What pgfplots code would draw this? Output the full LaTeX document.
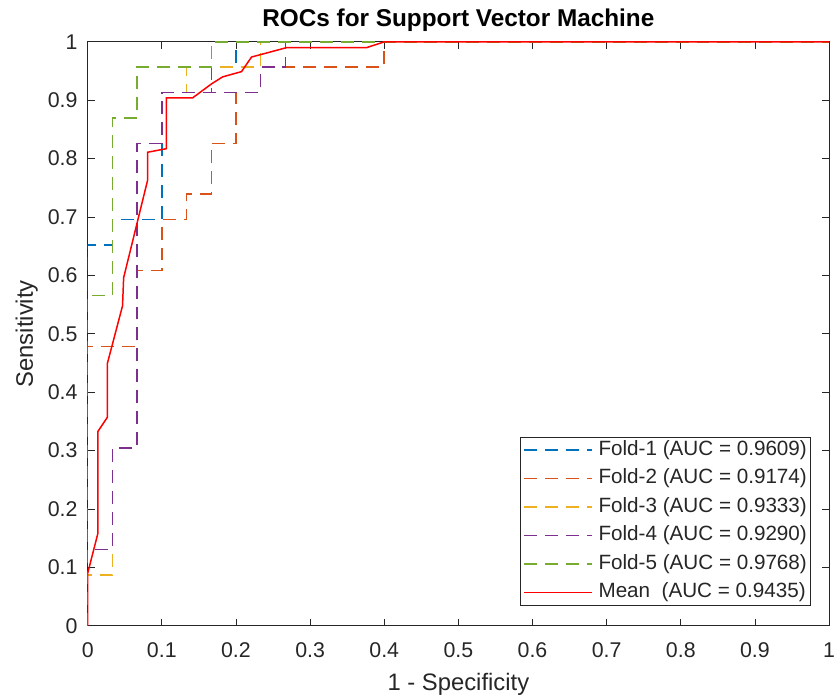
\documentclass[border=0pt]{standalone}
\usepackage{fontspec}
\setmainfont{Liberation Sans}
\usepackage{pgfplots}
\pgfplotsset{compat=1.18}
\definecolor{mlblue}{rgb}{0,0.447,0.741}
\definecolor{mlorange}{rgb}{0.850,0.325,0.098}
\definecolor{mlyellow}{rgb}{0.929,0.694,0.125}
\definecolor{mlpurple}{rgb}{0.494,0.184,0.556}
\definecolor{mlgreen}{rgb}{0.466,0.674,0.188}
\definecolor{axc}{rgb}{0.15,0.15,0.15}
\begin{document}
\begin{tikzpicture}
\begin{axis}[
  scale only axis, width=744bp, height=586bp,
  xmin=0, xmax=1, ymin=0, ymax=1,
  xtick={0,0.1,0.2,0.3,0.4,0.5,0.6,0.7,0.8,0.9,1},
  ytick={0,0.1,0.2,0.3,0.4,0.5,0.6,0.7,0.8,0.9,1},
  xticklabels={0,0.1,0.2,0.3,0.4,0.5,0.6,0.7,0.8,0.9,1},
  yticklabels={0,0.1,0.2,0.3,0.4,0.5,0.6,0.7,0.8,0.9,1},
  xtick pos=both, ytick pos=both, xticklabel pos=lower, yticklabel pos=left,
  tick align=inside, major tick length=7bp,
  every tick/.style={axc, line width=0.8bp},
  axis line style={axc, line width=0.9bp},
  /pgf/number format/assume math mode=true,
  ticklabel style={font=\fontsize{21.5}{25}\selectfont, text=axc},
  xticklabel style={anchor=base, yshift=-32bp, inner sep=0pt},
  yticklabel style={anchor=east, xshift=-10bp, inner sep=0pt},
  title={\textbf{ROCs for Support Vector Machine}},
  title style={at={(axis description cs:0.5,1.0154)}, anchor=base, font=\fontsize{24.5}{28}\selectfont, inner sep=0pt},
  xlabel={1 - Specificity},
  xlabel style={at={(axis description cs:0.5,-0.1109)}, anchor=base, font=\fontsize{24}{28}\selectfont, text=axc, inner sep=0pt},
  ylabel={Sensitivity},
  ylabel style={at={(axis description cs:-0.0739,0.5)}, anchor=base, font=\fontsize{24}{28}\selectfont, text=axc, inner sep=0pt},
  legend cell align=left,
  legend image code/.code={\draw[#1] (0bp,0bp) -- (68bp,0bp);},
  legend style={at={(axis description cs:0.9745,0.0341)}, anchor=south east,
    draw=axc, line width=0.6bp, fill=white, inner sep=3bp,
    font=\fontsize{20.8}{24}\selectfont, text=axc,
    nodes={inner sep=0pt, text height=15bp, text depth=5bp},
    row sep=8.6bp, column sep=6bp},
  every axis plot/.append style={line width=1.5bp},
]
\addplot[mlblue, dash pattern=on 13bp off 8bp] coordinates {
(0,0) (0,0.6522) (0.0333,0.6522) (0.0333,0.6957) (0.1,0.6957) (0.1,0.9130)
(0.1667,0.9130) (0.1667,0.9565) (0.2,0.9565) (0.2,1) (1,1)};
\addlegendentry{Fold-1 (AUC = 0.9609)}
\addplot[mlorange, dash pattern=on 13bp off 8bp] coordinates {
(0,0) (0,0.4783) (0.0667,0.4783) (0.0667,0.6087) (0.1,0.6087) (0.1,0.6957)
(0.1333,0.6957) (0.1333,0.7391) (0.1667,0.7391) (0.1667,0.8261) (0.2,0.8261)
(0.2,0.9130) (0.2333,0.9130) (0.2333,0.9565) (0.4,0.9565) (0.4,1) (1,1)};
\addlegendentry{Fold-2 (AUC = 0.9174)}
\addplot[mlyellow, dash pattern=on 13bp off 8bp] coordinates {
(0,0) (0,0.0870) (0.0333,0.0870) (0.0333,0.3043) (0.0667,0.3043) (0.0667,0.8261)
(0.1,0.8261) (0.1,0.9130) (0.1333,0.9130) (0.1333,0.9565) (0.2333,0.9565) (0.2333,1) (1,1)};
\addlegendentry{Fold-3 (AUC = 0.9333)}
\addplot[mlpurple, dash pattern=on 13bp off 8bp] coordinates {
(0,0) (0,0.1304) (0.0333,0.1304) (0.0333,0.3043) (0.0667,0.3043) (0.0667,0.8261)
(0.1,0.8261) (0.1,0.9130) (0.2333,0.9130) (0.2333,0.9565) (0.2667,0.9565) (0.2667,1) (1,1)};
\addlegendentry{Fold-4 (AUC = 0.9290)}
\addplot[mlgreen, dash pattern=on 13bp off 8bp] coordinates {
(0,0) (0,0.5652) (0.0333,0.5652) (0.0333,0.8696) (0.0667,0.8696) (0.0667,0.9565)
(0.1667,0.9565) (0.1667,1) (1,1)};
\addlegendentry{Fold-5 (AUC = 0.9768)}
\addplot[red, solid] coordinates {
(0,0) (0,0.090) (0.0139,0.159) (0.0139,0.333) (0.0265,0.357) (0.0265,0.449)
(0.047,0.548) (0.0485,0.596) (0.081,0.764) (0.081,0.811) (0.106,0.817)
(0.106,0.904) (0.1415,0.904) (0.167,0.928) (0.182,0.940) (0.2075,0.949)
(0.221,0.974) (0.268,0.990) (0.376,0.990) (0.4,1) (1,1)};
\addlegendentry{Mean\ \ (AUC = 0.9435)}
\end{axis}
\path ([xshift=-88bp,yshift=-72bp]current axis.south west) rectangle ([xshift=3bp,yshift=42bp]current axis.north east);
\end{tikzpicture}
\end{document}
